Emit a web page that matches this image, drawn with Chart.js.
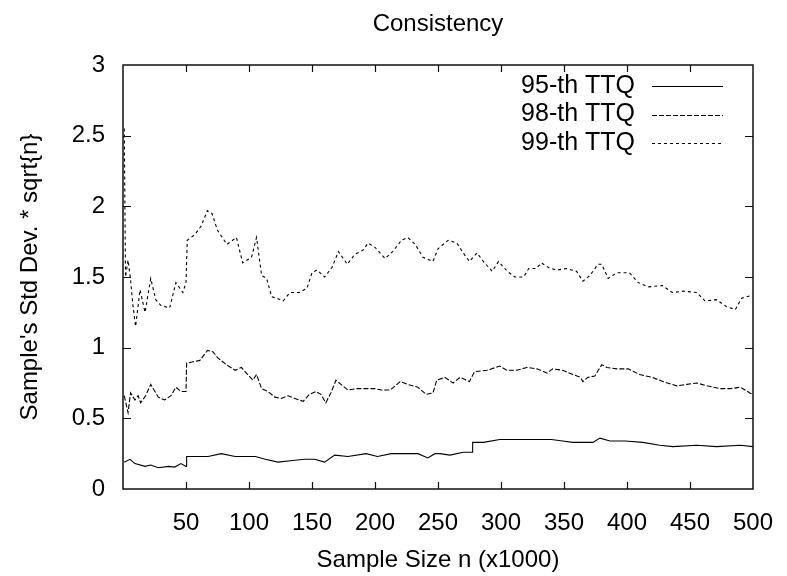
<!DOCTYPE html>
<html>
<head>
<meta charset="utf-8">
<script src="https://cdn.jsdelivr.net/npm/chart.js@4/dist/chart.umd.min.js"></script>
<style>
html,body{margin:0;padding:0;background:#fff;}
canvas{display:block;}
</style>
</head>
<body>
<canvas id="c" width="787" height="576"></canvas>
<script>
// ---- data ----
const seriesLabels = ["95-th TTQ", "98-th TTQ", "99-th TTQ"];
const yTickLabels = ["0", "0.5", "1", "1.5", "2", "2.5", "3"];
const xTickValues = [50, 100, 150, 200, 250, 300, 350, 400, 450, 500];

const x95 = [1,5.5,9.5,17.5,22,28,36,41,46,50, 50.5,59.5,67.5,78,89,97,105,113,123,133,
  144,152,160,168,178.5,193,202,213,224,234, 242,247.5,251.5,259.5,270,277,277.5,286,299,312.5,
  331,340,349,357,365,373,378.5,386.5,398.5,412.5, 426,436.5,455.5,471,490,500];
const y95 = [0.19,0.21,0.18,0.16,0.17,0.15,0.16,0.155,0.18,0.16, 0.23,0.23,0.23,0.25,0.23,0.23,0.23,0.21,0.19,0.20,
  0.21,0.21,0.19,0.24,0.23,0.25,0.23,0.25,0.25,0.25, 0.22,0.25,0.25,0.24,0.26,0.26,0.33,0.33,0.35,0.35,
  0.35,0.35,0.34,0.33,0.33,0.33,0.36,0.34,0.34,0.33, 0.31,0.30,0.31,0.30,0.31,0.30];

const x98 = [1,4,6,9.5,12,14,18,22,28,33, 38,42,46,50,50.5,55.5,61,67,71.5,75,
  82,89,94,99,103,106,110,115,120.5,125.5, 131,136.5,143,148,153,157,161,165,169,173,
  178.5,185,193,200,205,212,220,226,234,240.5, 246,249,255.5,262,267.5,275,279,289,299,304.5,
  312.5,320.5,328.5,336.5,341,349,357,363,365,369, 374.5,380,384,392,401,410,420,428.5,439.5,447.5,
  455.5,463.5,474,482,490,497.5,500];
const y98 = [0.66,0.54,0.68,0.63,0.66,0.61,0.66,0.74,0.65,0.63, 0.66,0.72,0.69,0.69,0.89,0.90,0.91,0.98,0.97,0.93,
  0.88,0.84,0.86,0.81,0.77,0.81,0.71,0.69,0.65,0.64, 0.66,0.64,0.62,0.67,0.69,0.67,0.61,0.68,0.77,0.74,
  0.70,0.71,0.71,0.71,0.70,0.70,0.76,0.74,0.72,0.67, 0.68,0.77,0.79,0.75,0.79,0.76,0.83,0.84,0.87,0.84,
  0.84,0.86,0.85,0.82,0.85,0.84,0.81,0.79,0.76,0.79, 0.80,0.88,0.86,0.85,0.85,0.81,0.79,0.76,0.73,0.74,
  0.75,0.73,0.71,0.71,0.72,0.68,0.67];

const x99 = [1,2,4,6,8,10,13.5,17.5,22,26, 30,37,42,47.5,50,51,57,62,67,70.6,
  75,82.5,90,95,102,106,110,114,118,122, 127,132.5,140,146,150,154,160,166,171,178,
  184,190.5,194.5,200,208,214,221,226,232,238, 246,250,258,265,270,275,281,286,293,298,
  305,311,318,322,328,332,339,345,352,360, 365,370.5,377,380,385,392,402,409,417,428,
  436,445,455.5,462,471,479,486,491,499];
const y99 = [2.55,1.5,1.62,1.48,1.29,1.15,1.41,1.25,1.49,1.34, 1.30,1.28,1.46,1.39,1.46,1.76,1.80,1.86,1.97,1.95,
  1.83,1.73,1.78,1.60,1.64,1.78,1.51,1.49,1.36,1.35, 1.33,1.39,1.39,1.42,1.53,1.55,1.50,1.57,1.68,1.59,
  1.66,1.69,1.74,1.71,1.63,1.68,1.76,1.78,1.73,1.64, 1.61,1.70,1.76,1.74,1.67,1.61,1.67,1.61,1.54,1.61,
  1.54,1.50,1.50,1.56,1.56,1.60,1.56,1.55,1.56,1.54, 1.47,1.51,1.59,1.59,1.49,1.53,1.53,1.46,1.43,1.44,
  1.39,1.40,1.39,1.33,1.34,1.29,1.27,1.35,1.37];

// ---- build ----
const pair = (xs, ys) => xs.map((x, i) => ({x: x, y: ys[i]}));
const FONT = "'Liberation Sans', Arial, Helvetica, sans-serif";
const dashes = [[], [5, 2], [3, 3]];

const frameAndLegend = {
  id: 'frameAndLegend',
  afterDatasetsDraw(chart) {
    const {ctx, chartArea: a, scales} = chart;
    ctx.save();
    ctx.strokeStyle = '#111';
    ctx.lineWidth = 1.5;
    ctx.setLineDash([]);
    ctx.strokeRect(a.left, a.top, a.right - a.left, a.bottom - a.top);
    ctx.lineWidth = 1.2;
    ctx.beginPath();
    scales.x.ticks.forEach(t => {
      if (t.value <= scales.x.min || t.value >= scales.x.max) return;
      const px = Math.round(scales.x.getPixelForValue(t.value)) + 0.5;
      ctx.moveTo(px, a.bottom); ctx.lineTo(px, a.bottom - 7);
      ctx.moveTo(px, a.top); ctx.lineTo(px, a.top + 7);
    });
    scales.y.ticks.forEach(t => {
      if (t.value <= scales.y.min || t.value >= scales.y.max) return;
      const py = Math.round(scales.y.getPixelForValue(t.value)) + 0.5;
      ctx.moveTo(a.left, py); ctx.lineTo(a.left + 8, py);
      ctx.moveTo(a.right, py); ctx.lineTo(a.right - 8, py);
    });
    ctx.stroke();

    // gnuplot-style legend: label then line sample
    ctx.font = "25px " + FONT;
    ctx.fillStyle = '#000';
    ctx.textAlign = 'right';
    ctx.textBaseline = 'middle';
    chart.data.datasets.forEach((ds, i) => {
      const y = a.top + 21 + i * 28.5;
      ctx.fillText(ds.label, a.right - 118, y);
      ctx.strokeStyle = '#000';
      ctx.lineWidth = 1;
      ctx.setLineDash(ds.borderDash || []);
      ctx.beginPath();
      ctx.moveTo(a.right - 101, Math.round(y) + 0.5);
      ctx.lineTo(a.right - 30, Math.round(y) + 0.5);
      ctx.stroke();
    });
    ctx.restore();
  }
};

new Chart(document.getElementById('c'), {
  type: 'line',
  data: {
    datasets: [
      {label: seriesLabels[0], data: pair(x95, y95), borderDash: dashes[0]},
      {label: seriesLabels[1], data: pair(x98, y98), borderDash: dashes[1]},
      {label: seriesLabels[2], data: pair(x99, y99), borderDash: dashes[2]}
    ].map(d => Object.assign(d, {borderColor: '#000', borderWidth: 1.1, pointRadius: 0, tension: 0, fill: false}))
  },
  options: {
    responsive: false,
    animation: false,
    devicePixelRatio: 1,
    layout: {padding: {left: 0, right: 34, top: 0, bottom: 0}},
    plugins: {
      legend: {display: false},
      tooltip: {enabled: false},
      title: {
        display: true, text: 'Consistency', fullSize: false,
        color: '#000', font: {family: FONT, size: 24, weight: 'normal'},
        padding: {top: 10, bottom: 26.2}
      }
    },
    scales: {
      x: {
        type: 'linear', min: 0, max: 500,
        grid: {display: false, drawTicks: false},
        border: {display: false},
        afterBuildTicks: s => { s.ticks = [0].concat(xTickValues).map(v => ({value: v})); },
        ticks: {
          color: '#000', font: {family: FONT, size: 24}, padding: 20, maxRotation: 0, autoSkip: false,
          callback: v => (v === 0 ? '' : String(v))
        },
        title: {display: true, text: 'Sample Size n (x1000)', color: '#000',
          font: {family: FONT, size: 24}, padding: {top: 0, bottom: 1}},
        afterFit: s => { s.height = 87; s.paddingLeft = 0; s.paddingRight = 0; }
      },
      y: {
        type: 'linear', min: 0, max: 3,
        grid: {display: false, drawTicks: false},
        border: {display: false},
        afterBuildTicks: s => { s.ticks = yTickLabels.map(t => ({value: parseFloat(t)})); },
        ticks: {
          color: '#000', font: {family: FONT, size: 24}, padding: 18, autoSkip: false,
          callback: (v, i) => yTickLabels[i]
        },
        title: {display: true, text: "Sample's Std Dev. * sqrt{n}", color: '#000',
          font: {family: FONT, size: 24}, padding: {top: 16, bottom: 0}},
        afterFit: s => { s.width = 123; s.paddingTop = 0; s.paddingBottom = 0; }
      }
    }
  },
  plugins: [frameAndLegend]
});
</script>
</body>
</html>
